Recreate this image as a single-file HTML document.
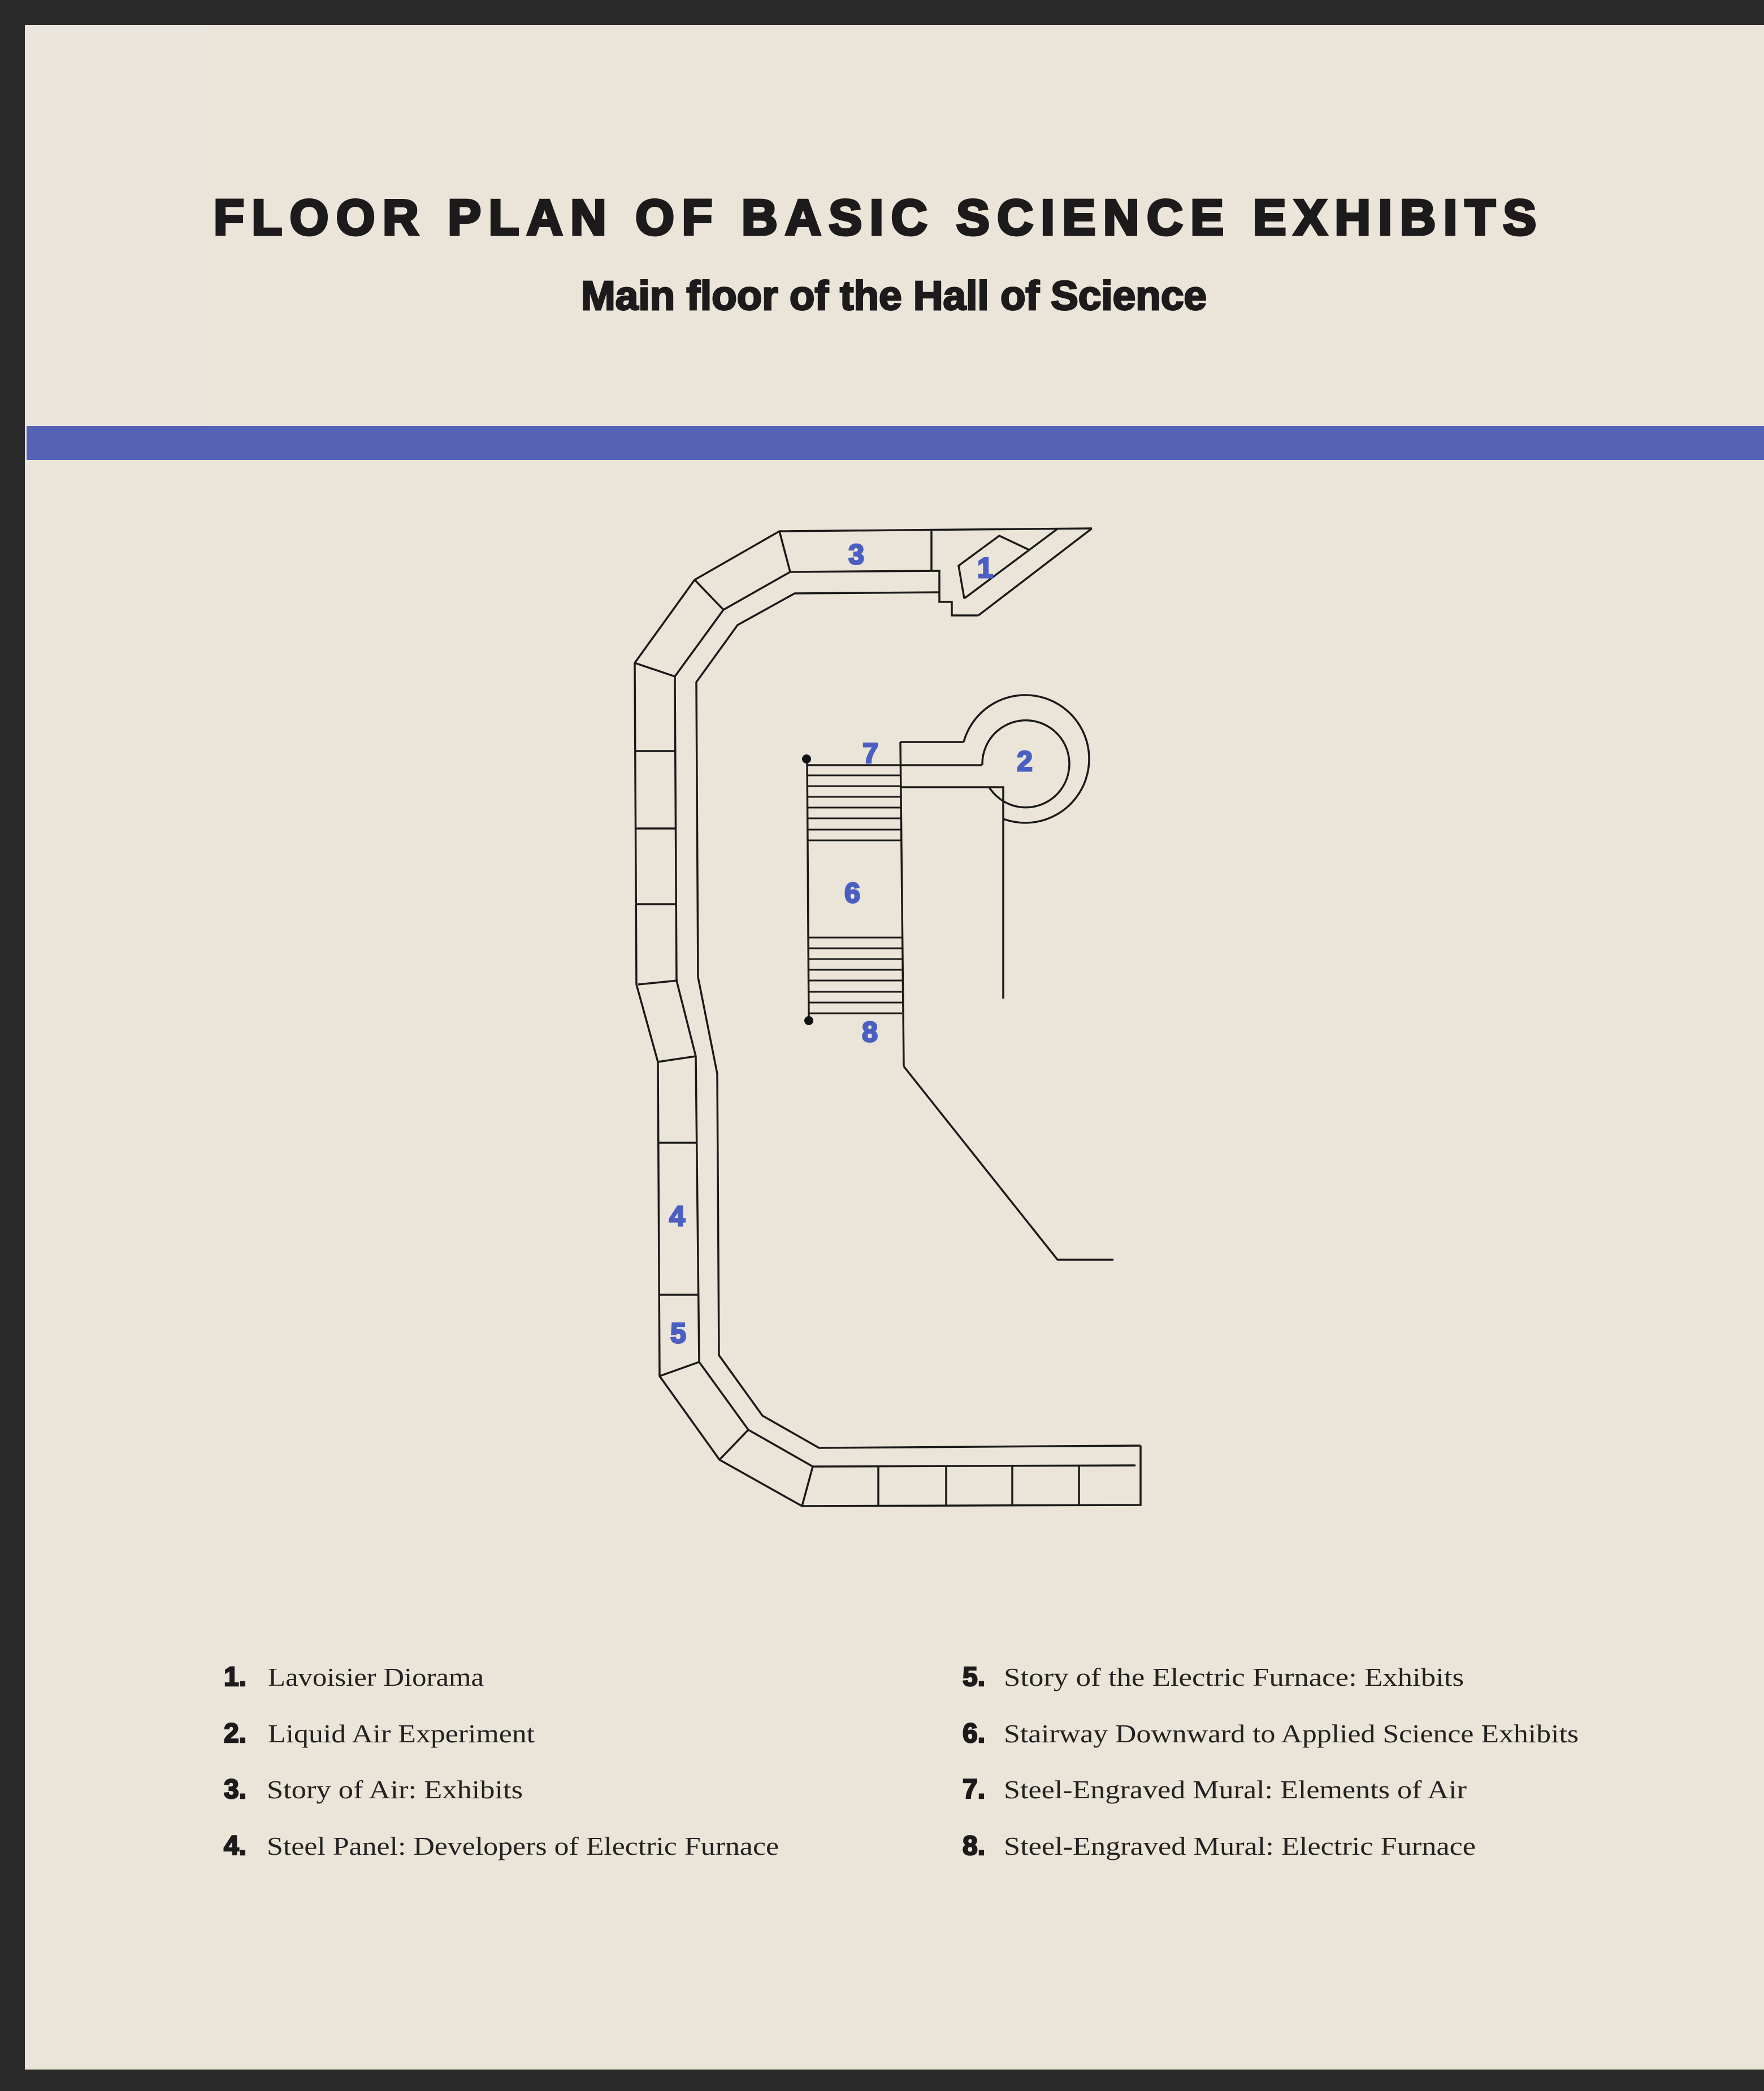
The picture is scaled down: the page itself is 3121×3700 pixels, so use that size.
<!DOCTYPE html>
<html><head><meta charset="utf-8"><style>
html,body{margin:0;padding:0;background:#2b2b2b;}
svg{display:block;}
</style></head><body>
<svg width="3121" height="3700" viewBox="0 0 3121 3700" xmlns="http://www.w3.org/2000/svg">
<rect x="0" y="0" width="3121" height="3700" fill="#2b2b2b"/>
<rect x="44" y="44" width="3077" height="3618" fill="#ebe5d9"/>
<rect x="44" y="44" width="320" height="710" fill="#eae6dd"/>
<rect x="47" y="754" width="3074" height="60" fill="#5463b6"/>

<text x="378" y="415" font-family="Liberation Sans, sans-serif" font-weight="bold" font-size="88" fill="#1c1a1a" stroke="#1c1a1a" stroke-width="5" textLength="2340" lengthAdjust="spacing">FLOOR PLAN OF BASIC SCIENCE EXHIBITS</text>
<text x="1028" y="548" font-family="Liberation Sans, sans-serif" font-weight="bold" font-size="72" fill="#1c1a1a" stroke="#1c1a1a" stroke-width="3" textLength="1107" lengthAdjust="spacingAndGlyphs">Main floor of the Hall of Science</text>

<g fill="none" stroke="#1a1a1a" stroke-width="3.5" stroke-linejoin="miter">
<polyline points="1932,935 1379,940 1229,1026 1123,1173 1126,1742 1164,1879 1167,2435 1273,2583 1419,2665 2018,2663 2018,2558"/>
<polyline points="1731,1089 1684,1089 1684,1065 1662,1065 1662,1010 1398,1012 1280,1079 1194,1197 1197,1735 1231,1869 1237,2410 1324,2530 1438,2595 2009,2593"/>
<polyline points="1662,1048 1406,1050 1305,1106 1232,1207 1235,1729 1269,1900 1272,2398 1349,2505 1449,2562 2018,2558"/>
<line x1="1932" y1="935" x2="1731" y2="1089"/>
<line x1="1872" y1="935" x2="1706" y2="1059"/>
<polyline points="1706,1059 1696,1001 1768,948 1821,973"/>
<line x1="1648" y1="940" x2="1648" y2="1010"/>
<line x1="1379" y1="940" x2="1398" y2="1012"/>
<line x1="1229" y1="1026" x2="1280" y2="1079"/>
<line x1="1123" y1="1173" x2="1194" y2="1197"/>
<line x1="1123" y1="1329" x2="1196" y2="1329"/>
<line x1="1124" y1="1466" x2="1197" y2="1466"/>
<line x1="1126" y1="1600" x2="1197" y2="1600"/>
<line x1="1129" y1="1742" x2="1199" y2="1735"/>
<line x1="1164" y1="1879" x2="1231" y2="1869"/>
<line x1="1165" y1="2022" x2="1234" y2="2022"/>
<line x1="1166" y1="2291" x2="1236" y2="2291"/>
<line x1="1167" y1="2435" x2="1237" y2="2410"/>
<line x1="1273" y1="2583" x2="1324" y2="2530"/>
<line x1="1438" y1="2595" x2="1419" y2="2665"/>
<line x1="1554" y1="2595" x2="1554" y2="2663"/>
<line x1="1674" y1="2595" x2="1674" y2="2663"/>
<line x1="1791" y1="2595" x2="1791" y2="2663"/>
<line x1="1909" y1="2594" x2="1909" y2="2663"/>
<line x1="1428" y1="1343" x2="1431" y2="1806"/>
<line x1="1428" y1="1354" x2="1738" y2="1354"/>
<line x1="1593" y1="1313" x2="1599" y2="1887"/>
<polyline points="1599,1887 1871,2229 1970,2229"/>
<line x1="1593" y1="1313" x2="1705" y2="1313"/>
<path d="M1705,1313 A113,113 0 1 1 1775,1449"/>
<path d="M1738,1354 A77,77 0 1 1 1750,1393"/>
<polyline points="1593,1393 1775,1393 1775,1767"/>
<g stroke-width="3">
<line x1="1428" y1="1372" x2="1593" y2="1372"/>
<line x1="1428" y1="1391" x2="1593" y2="1391"/>
<line x1="1428" y1="1410" x2="1593" y2="1410"/>
<line x1="1428" y1="1429" x2="1593" y2="1429"/>
<line x1="1428" y1="1448" x2="1593" y2="1448"/>
<line x1="1428" y1="1468" x2="1593" y2="1468"/>
<line x1="1428" y1="1487" x2="1593" y2="1487"/>
<line x1="1430" y1="1659" x2="1596" y2="1659"/>
<line x1="1430" y1="1678" x2="1596" y2="1678"/>
<line x1="1430" y1="1697" x2="1596" y2="1697"/>
<line x1="1430" y1="1716" x2="1596" y2="1716"/>
<line x1="1430" y1="1735" x2="1596" y2="1735"/>
<line x1="1430" y1="1755" x2="1596" y2="1755"/>
<line x1="1430" y1="1774" x2="1596" y2="1774"/>
<line x1="1430" y1="1793" x2="1596" y2="1793"/>
</g>
</g>
<circle cx="1427" cy="1343" r="8" fill="#111"/>
<circle cx="1431" cy="1806" r="8" fill="#111"/>

<g font-family="Liberation Sans, sans-serif" font-weight="bold" font-size="50" fill="#4b5fc2" stroke="#4b5fc2" stroke-width="3" text-anchor="middle">
<text x="1515" y="998">3</text>
<text x="1743" y="1022">1</text>
<text x="1540" y="1350">7</text>
<text x="1813" y="1364">2</text>
<text x="1508" y="1597">6</text>
<text x="1539" y="1843">8</text>
<text x="1198" y="2169">4</text>
<text x="1200" y="2376">5</text>
</g>

<g font-family="Liberation Sans, sans-serif" font-weight="bold" font-size="48" fill="#1c1a1a" stroke="#1c1a1a" stroke-width="2.5">
<text x="396" y="2983">1.</text>
<text x="396" y="3083">2.</text>
<text x="396" y="3182">3.</text>
<text x="396" y="3282">4.</text>
<text x="1703" y="2983">5.</text>
<text x="1703" y="3083">6.</text>
<text x="1703" y="3182">7.</text>
<text x="1703" y="3282">8.</text>
</g>
<g font-family="Liberation Serif, serif" font-size="46" fill="#222">
<text x="474" y="2983" textLength="382" lengthAdjust="spacingAndGlyphs">Lavoisier Diorama</text>
<text x="474" y="3083" textLength="472" lengthAdjust="spacingAndGlyphs">Liquid Air Experiment</text>
<text x="472" y="3182" textLength="453" lengthAdjust="spacingAndGlyphs">Story of Air: Exhibits</text>
<text x="472" y="3282" textLength="906" lengthAdjust="spacingAndGlyphs">Steel Panel: Developers of Electric Furnace</text>
<text x="1776" y="2983" textLength="814" lengthAdjust="spacingAndGlyphs">Story of the Electric Furnace: Exhibits</text>
<text x="1776" y="3083" textLength="1017" lengthAdjust="spacingAndGlyphs">Stairway Downward to Applied Science Exhibits</text>
<text x="1776" y="3182" textLength="819" lengthAdjust="spacingAndGlyphs">Steel-Engraved Mural: Elements of Air</text>
<text x="1776" y="3282" textLength="835" lengthAdjust="spacingAndGlyphs">Steel-Engraved Mural: Electric Furnace</text>
</g>
</svg>
</body></html>
